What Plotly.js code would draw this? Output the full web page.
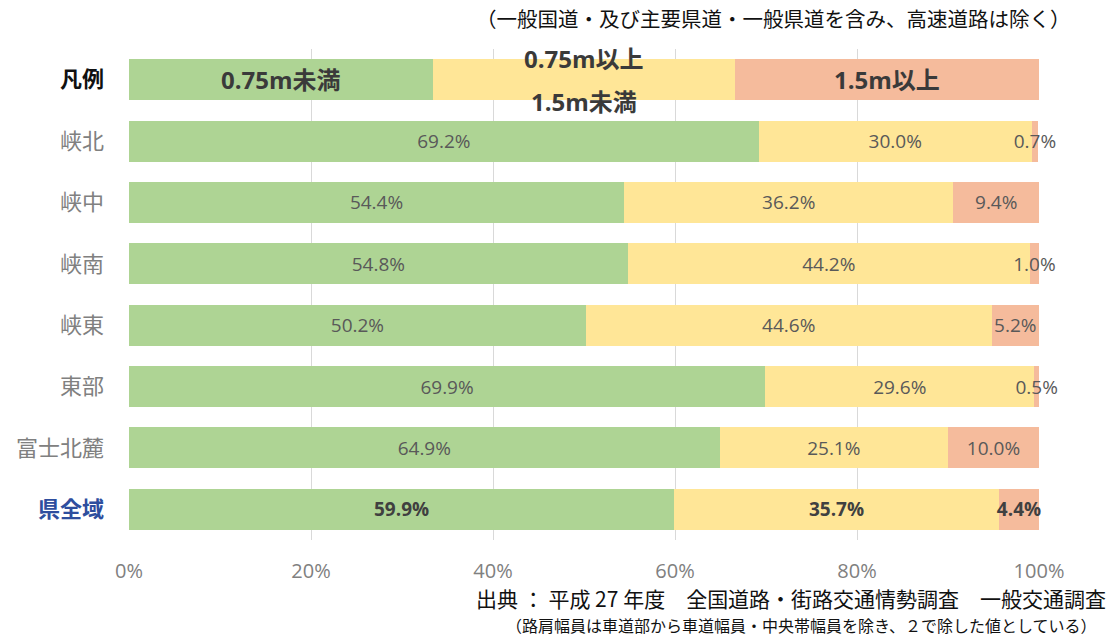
<!DOCTYPE html>
<html>
<head>
<meta charset="utf-8">
<script src="https://cdn.plot.ly/plotly-3.0.1.min.js"></script>
<style>html,body{margin:0;padding:0;background:#fff;}#chart{width:1110px;height:637px;}</style>
</head>
<body>
<div id="chart"></div>
<script>
// ---- data ----
const categories = ['凡例', '峡北', '峡中', '峡南', '峡東', '東部', '富士北麓', '県全域'];
const seriesNames = ['0.75m未満', '0.75m以上 1.5m未満', '1.5m以上'];
const legendLabels = ['0.75m未満', '0.75m以上', '1.5m未満', '1.5m以上'];
const under075   = [33.4, 69.2, 54.4, 54.8, 50.2, 69.9, 64.9, 59.9];
const mid075to15 = [33.2, 30.0, 36.2, 44.2, 44.6, 29.6, 25.1, 35.7];
const over15     = [33.4, 0.7, 9.4, 1.0, 5.2, 0.5, 10.0, 4.4];
const xTickVals  = [0, 20, 40, 60, 80, 100];
const xTickText  = ['0%', '20%', '40%', '60%', '80%', '100%'];
const titleText  = '（一般国道・及び主要県道・一般県道を含み、高速道路は除く）';
const sourceText = '出典 ： 平成 27 年度　全国道路・街路交通情勢調査　一般交通調査';
const noteText   = '（路肩幅員は車道部から車道幅員・中央帯幅員を除き、２で除した値としている）';

const colors = ['#aed494', '#ffe697', '#f5bb9c'];
const allSeries = [under075, mid075to15, over15];

function labelsFor(vals) {
  return vals.map((v, i) => {
    if (categories[i] === '凡例') return '';
    const s = v.toFixed(1) + '%';
    return categories[i] === '県全域' ? '<b>' + s + '</b>' : s;
  });
}
function colorsFor(vals) {
  return vals.map((v, i) => categories[i] === '県全域' ? '#404040' : '#595959');
}

const traces = allSeries.map((vals, k) => ({
  type: 'bar',
  orientation: 'h',
  name: seriesNames[k],
  y: categories,
  x: vals,
  marker: {color: colors[k], line: {width: 0}},
  text: labelsFor(vals),
  textposition: 'inside',
  insidetextanchor: 'middle',
  textangle: 0,
  constraintext: 'none',
  cliponaxis: false,
  textfont: {family: 'Open Sans, Noto Sans CJK JP, sans-serif', size: 19, color: colorsFor(vals)},
  hoverinfo: 'skip'
}));

// legend-row labels positioned at segment midpoints computed from data
const legIdx = categories.indexOf('凡例');
const m0 = under075[legIdx] / 2;
const m1 = under075[legIdx] + mid075to15[legIdx] / 2;
const m2 = under075[legIdx] + mid075to15[legIdx] + over15[legIdx] / 2;
const legFont = {family: 'Open Sans, Noto Sans CJK JP, sans-serif', size: 24, color: '#3a3a3a'};
const jp = 'Noto Sans CJK JP, sans-serif';
const annotations = [
  {x: m0, y: '凡例', xref: 'x', yref: 'y', text: '<b>' + legendLabels[0] + '</b>', showarrow: false, font: legFont},
  {x: m1, y: '凡例', xref: 'x', yref: 'y', text: '<b>' + legendLabels[1] + '</b>', showarrow: false, font: legFont, yshift: 21},
  {x: m1, y: '凡例', xref: 'x', yref: 'y', text: '<b>' + legendLabels[2] + '</b>', showarrow: false, font: legFont, yshift: -22},
  {x: m2, y: '凡例', xref: 'x', yref: 'y', text: '<b>' + legendLabels[3] + '</b>', showarrow: false, font: legFont},
  {x: 1, y: 1, xref: 'paper', yref: 'paper', xanchor: 'right', yanchor: 'middle', yshift: 31, xshift: 34,
   text: titleText, showarrow: false, font: {family: jp, size: 20.5, color: '#111'}},
  {x: 1, y: 0, xref: 'paper', yref: 'paper', xanchor: 'right', yanchor: 'middle', yshift: -58, xshift: 68,
   text: sourceText, showarrow: false, font: {family: jp, size: 21, color: '#111'}, borderpad: 0},
  {x: 1, y: 0, xref: 'paper', yref: 'paper', xanchor: 'right', yanchor: 'middle', yshift: -85, xshift: 58,
   text: noteText, showarrow: false, font: {family: jp, size: 16, color: '#111'}, borderpad: 0}
];

const yTickText = categories.map(c => {
  if (c === '凡例') return '<b><span style="color:#111">' + c + '</span></b>';
  if (c === '県全域') return '<b><span style="color:#2e4e9e">' + c + '</span></b>';
  return c;
});

const layout = {
  width: 1110, height: 637,
  margin: {l: 129, r: 71, t: 49, b: 97, autoexpand: false},
  paper_bgcolor: '#fff', plot_bgcolor: '#fff',
  barmode: 'stack',
  bargap: 0.332,
  showlegend: false,
  font: {family: jp, color: '#595959'},
  xaxis: {
    range: [0, 100.0001], tickvals: xTickVals, ticktext: xTickText, automargin: false,
    showgrid: true, gridcolor: '#d9d9d9', gridwidth: 1, zeroline: false,
    showline: false, ticks: '', ticklabelstandoff: 17,
    tickfont: {family: 'Open Sans, sans-serif', size: 20, color: '#808080'}, fixedrange: true
  },
  yaxis: {
    type: 'category', categoryorder: 'array', categoryarray: categories, automargin: false,
    range: [categories.length - 0.5, -0.5], tickvals: categories, ticktext: yTickText,
    showgrid: false, zeroline: false, showline: false, ticks: '', ticklabelstandoff: 24,
    tickfont: {family: jp, size: 22, color: '#808080'}, fixedrange: true
  },
  annotations: annotations
};

Plotly.newPlot('chart', traces, layout, {displayModeBar: false, staticPlot: true});
</script>
</body>
</html>
